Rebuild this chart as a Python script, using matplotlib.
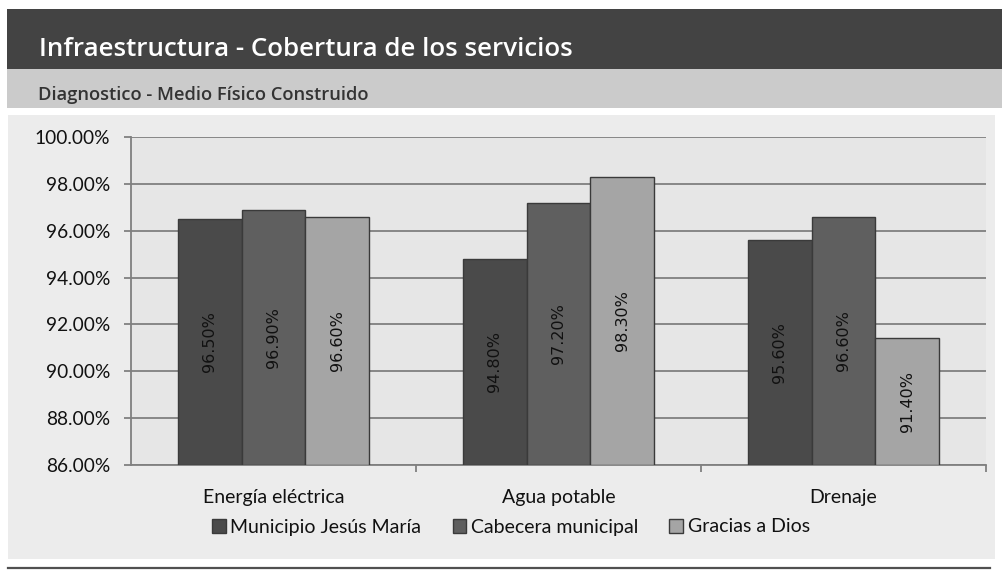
import matplotlib
matplotlib.use("Agg")
import matplotlib.pyplot as plt
from matplotlib.patches import Rectangle
from matplotlib.lines import Line2D
from matplotlib.ticker import FuncFormatter
import numpy as np

categories = ["Energía eléctrica", "Agua potable", "Drenaje"]
series_names = ["Municipio Jesús María", "Cabecera municipal", "Gracias a Dios"]
municipio = [96.5, 94.8, 95.6]
cabecera = [96.9, 97.2, 96.6]
gracias = [96.6, 98.3, 91.4]
yticks = [86, 88, 90, 92, 94, 96, 98, 100]
title = "Infraestructura - Cobertura de los servicios"
subtitle = "Diagnostico - Medio Físico Construido"

W, H = 1002, 571
fig = plt.figure(figsize=(W / 100, H / 100), dpi=100)
fig.patch.set_facecolor("white")

def frect(x0, y0, x1, y1, color):
    fig.add_artist(Rectangle((x0 / W, 1 - y1 / H), (x1 - x0) / W, (y1 - y0) / H,
                             transform=fig.transFigure, facecolor=color,
                             edgecolor="none", zorder=-10))

frect(7, 9, 1002, 69, "#434343")
frect(7, 69, 1002, 108, "#cbcbcb")
frect(8, 115, 995, 559, "#ececec")
fig.add_artist(Line2D([8 / W, 990 / W], [1 - 568 / H, 1 - 568 / H],
                      transform=fig.transFigure, color="#505050", lw=1.6, zorder=-10))

fig.text(39 / W, 1 - 50 / H, title, color="white", fontsize=18.6, fontweight="semibold",
         family="Open Sans", va="center", ha="left")
fig.text(38 / W, 1 - 95 / H, subtitle, color="#333333", fontsize=13.2, fontweight="semibold",
         family="Open Sans", va="center", ha="left")

ax = fig.add_axes([131 / W, (H - 465) / H, 855 / W, 328 / H])
ax.set_facecolor("#e6e6e6")
x = np.arange(len(categories))
bw = 0.2235
colors = ["#4a4a4a", "#5f5f5f", "#a5a5a5"]
data = [municipio, cabecera, gracias]
for i, (vals, c, name) in enumerate(zip(data, colors, series_names)):
    pos = x + (i - 1) * bw
    ax.bar(pos, np.array(vals) - 86, bottom=86, width=bw, color=c,
           edgecolor="#3a3a3a", linewidth=1.0, zorder=3, label=name)
    for p, v in zip(pos, vals):
        ax.text(p, (86 + v) / 2, f"{v:.2f}%", rotation=90, ha="center", va="center",
                fontsize=11.5, color="#111111", family="DejaVu Sans", zorder=4)

ax.set_ylim(86, 100)
ax.set_xlim(-0.5, 2.5)
ax.set_yticks(yticks)
ax.yaxis.set_major_formatter(FuncFormatter(lambda v, p: f"{v:.2f}%"))
ax.grid(axis="y", color="#808080", lw=1.3, zorder=1)
ax.set_axisbelow(True)
for s in ["top", "right"]:
    ax.spines[s].set_visible(False)
for s in ["left", "bottom"]:
    ax.spines[s].set_color("#808080")
    ax.spines[s].set_linewidth(1.3)
ax.set_xticks([0.5, 1.5, 2.5], minor=False)
ax.set_xticklabels([])
ax.set_xticks(x, minor=True)
ax.set_xticklabels(categories, minor=True)
ax.tick_params(axis="x", which="major", length=5, color="#808080", width=1.3, direction="out")
ax.tick_params(axis="x", which="minor", length=0, pad=17, labelsize=14, labelcolor="#111111")
ax.tick_params(axis="y", length=5, color="#808080", width=1.3, pad=10, labelsize=13.8,
               labelcolor="#111111")
for lab in ax.get_xticklabels(minor=True) + ax.get_yticklabels():
    lab.set_family("Lato")

leg = fig.legend(loc="center", bbox_to_anchor=(511 / W, 1 - 527 / H), ncol=3,
                 frameon=False, handlelength=0.7, handleheight=0.7, handletextpad=0.25,
                 columnspacing=1.6, prop={"family": "Lato", "size": 14})
for t in leg.get_texts():
    t.set_color("#111111")

fig.savefig("out.png", dpi=100)
